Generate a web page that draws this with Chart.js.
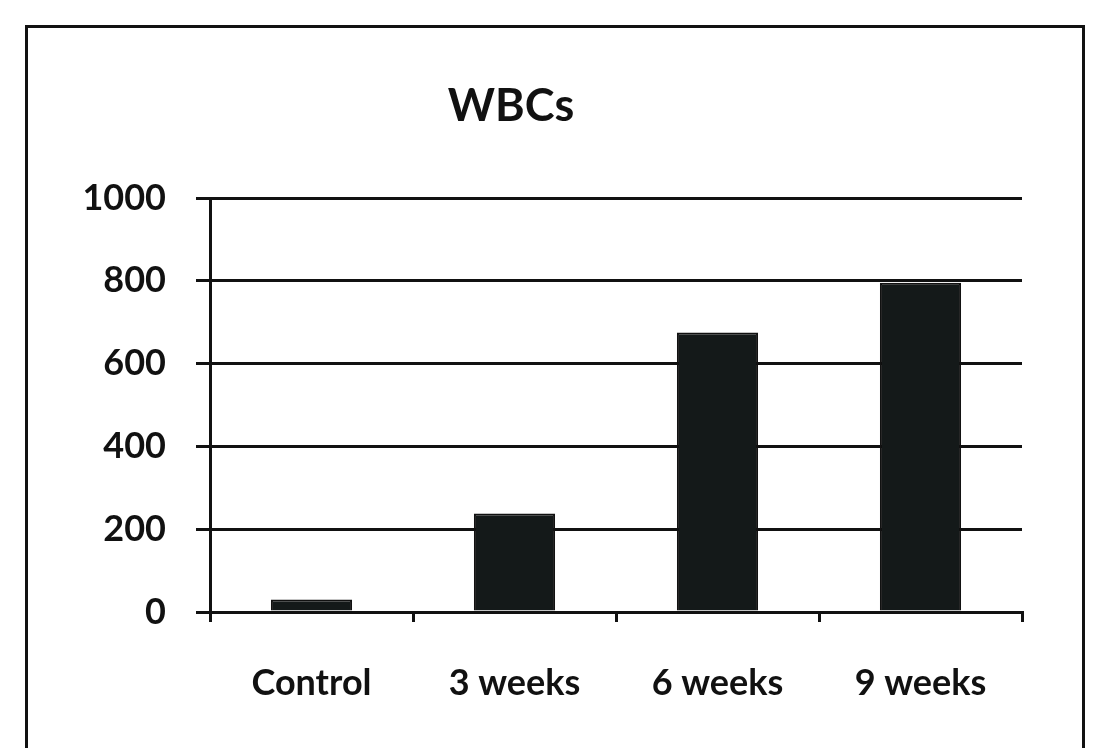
<!DOCTYPE html>
<html>
<head>
<meta charset="utf-8">
<script src="https://cdn.jsdelivr.net/npm/chart.js@4.4.0/dist/chart.umd.min.js"></script>
<style>
  html, body { margin: 0; padding: 0; background: #fff; }
  #wrap { position: relative; width: 1094px; height: 748px; overflow: hidden; }
  #frame { position: absolute; left: 25px; top: 25px; width: 1054px; height: 760px; border: 3px solid #111; }
  canvas { position: absolute; left: 0; top: 0; }
</style>
</head>
<body>
<div id="wrap">
  <div id="frame"></div>
  <canvas id="chart" width="1094" height="748"></canvas>
</div>
<script>
const categories = ["Control", "3 weeks", "6 weeks", "9 weeks"];
const wbcValues = [30, 238, 675, 795];
const yTicks = [0, 200, 400, 600, 800, 1000];

const ink = "#111";
const font = "Lato, 'Open Sans', sans-serif";

const ctx = document.getElementById("chart");
new Chart(ctx, {
  type: "bar",
  data: {
    labels: categories,
    datasets: [
      {
        data: wbcValues,
        backgroundColor: "#141919",
        borderColor: ink,
        borderWidth: 2,
        barPercentage: 0.4,
        categoryPercentage: 1,
      },
    ],
  },
  options: {
    responsive: false,
    animation: false,
    layout: { padding: { left: 0, right: 72, top: 0, bottom: 0 } },
    plugins: {
      legend: { display: false },
      tooltip: { enabled: false },
      title: {
        display: true,
        text: "WBCs",
        color: ink,
        font: { family: font, size: 45, weight: "bold" },
        padding: { top: 79, bottom: 65 },
      },
    },
    scales: {
      x: {
        grid: {
          offset: true,
          drawOnChartArea: false,
          drawTicks: true,
          tickLength: 10,
          color: ink,
          lineWidth: 3,
        },
        border: { display: true, color: ink, width: 3 },
        ticks: {
          color: ink,
          padding: 40,
          font: { family: font, size: 36, weight: "bold" },
        },
        afterFit: (scale) => { scale.height = 136; },
      },
      y: {
        min: 0,
        max: 1000,
        afterBuildTicks: (scale) => {
          scale.ticks = yTicks.map((v) => ({ value: v }));
        },
        grid: {
          color: ink,
          lineWidth: 3,
          drawTicks: true,
          tickLength: 14,
        },
        border: { display: true, color: ink, width: 3 },
        ticks: {
          color: ink,
          padding: 30,
          font: { family: font, size: 36, weight: "bold" },
          callback: (v) => String(v),
        },
        afterFit: (scale) => { scale.width = 210; },
      },
    },
  },
});
</script>
</body>
</html>
